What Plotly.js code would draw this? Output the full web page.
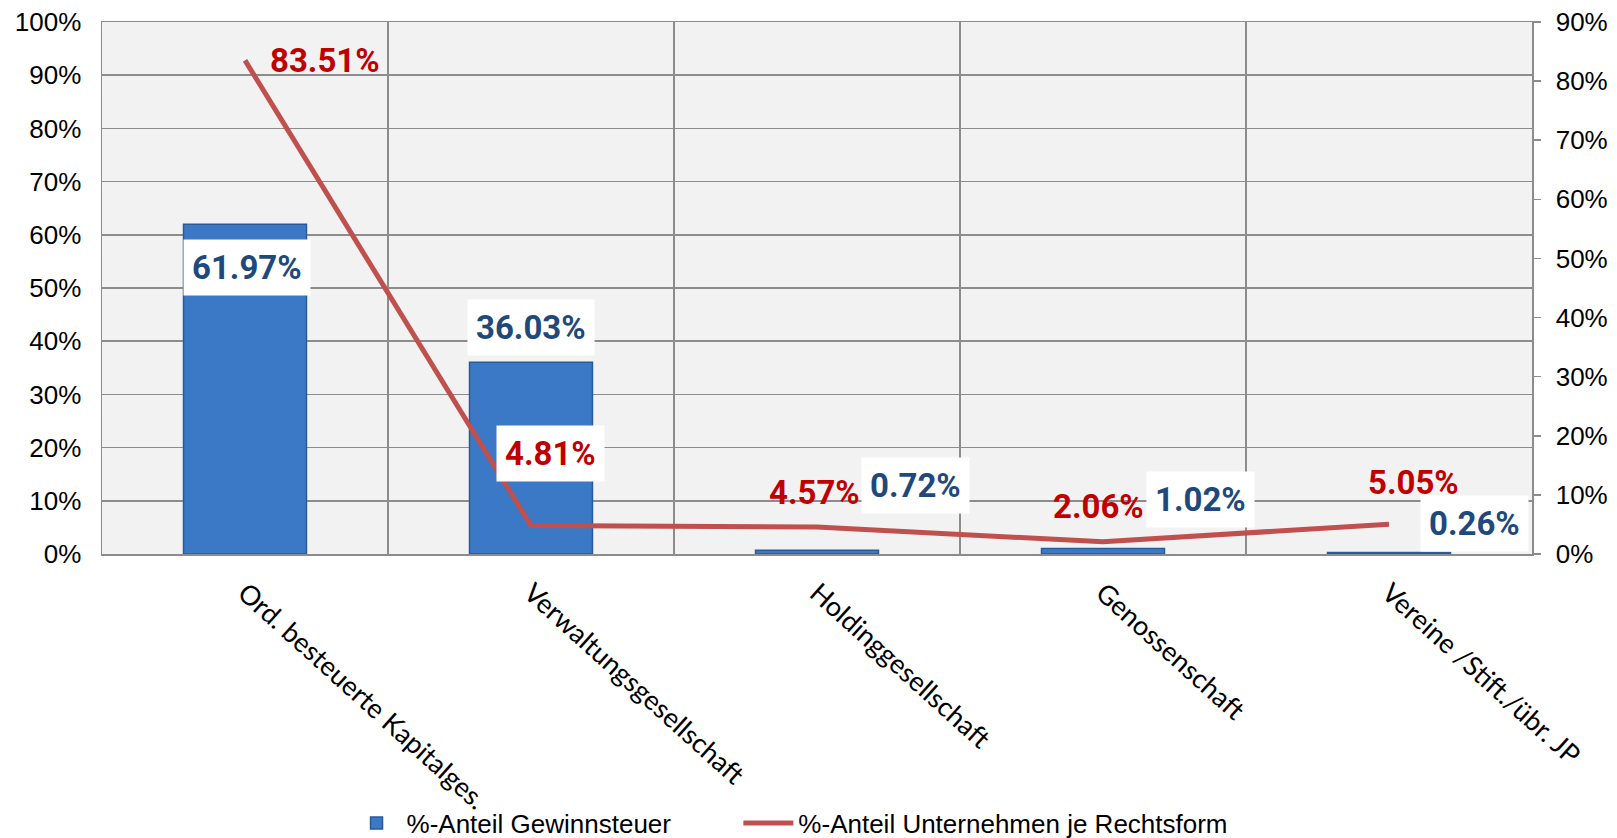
<!DOCTYPE html>
<html>
<head>
<meta charset="utf-8">
<script src="https://cdn.plot.ly/plotly-3.0.1.min.js"></script>
<style>
  html, body { margin: 0; padding: 0; background: #fff; }
  #chart { width: 1617px; height: 838px; }
</style>
</head>
<body>
<div id="chart"></div>
<script>
// Rechtsformen
const categories = [
    'Ord. besteuerte Kapitalges.',
    'Verwaltungsgesellschaft',
    'Holdinggesellschaft',
    'Genossenschaft',
    'Vereine /Stift./übr. JP'
];

// %-Anteil Gewinnsteuer (linke Achse)
const taxShare = [61.97, 36.03, 0.72, 1.02, 0.26];
// %-Anteil Unternehmen je Rechtsform (rechte Achse)
const companyShare = [83.51, 4.81, 4.57, 2.06, 5.05];

const taxLabels = ['61.97%', '36.03%', '0.72%', '1.02%', '0.26%'];
const companyLabels = ['83.51%', '4.81%', '4.57%', '2.06%', '5.05%'];

// label offsets in px, tuned against the picture
const taxShift = [[2, -43], [0, 35], [98, 65], [97, 49], [85, 29]];
const companyShift = [[80, 0], [19, 72], [-3, 34], [-5, 35], [24, 42]];
const companyBox = [false, true, false, false, false];

const blue = '#1F497D';
const red = '#C00000';
const grid = '#8C8C8C';
const labelFont = 'Roboto, "Open Sans", sans-serif';

const data = [
    {
        type: 'bar',
        name: '%-Anteil Gewinnsteuer',
        x: categories,
        y: taxShare,
        yaxis: 'y',
        legend: 'legend',
        marker: {
            color: '#3B78C6',
            line: { color: '#2A5B99', width: 1.5 }
        },
        hoverinfo: 'skip'
    },
    {
        type: 'scatter',
        mode: 'lines',
        name: '%-Anteil Unternehmen je Rechtsform',
        x: categories,
        y: companyShare,
        yaxis: 'y2',
        legend: 'legend2',
        line: { color: '#C0504D', width: 5 },
        hoverinfo: 'skip'
    }
];

const annotations = [];
taxShare.forEach((v, i) => {
    annotations.push({
        x: categories[i], y: v, xref: 'x', yref: 'y',
        text: taxLabels[i],
        showarrow: false,
        xshift: taxShift[i][0], yshift: taxShift[i][1],
        bgcolor: '#FFFFFF',
        borderpad: 8,
        font: { family: labelFont, size: 33, color: blue, weight: 'bold' }
    });
});
companyShare.forEach((v, i) => {
    annotations.push({
        x: categories[i], y: v, xref: 'x', yref: 'y2',
        text: companyLabels[i],
        showarrow: false,
        xshift: companyShift[i][0], yshift: companyShift[i][1],
        bgcolor: companyBox[i] ? '#FFFFFF' : 'rgba(0,0,0,0)',
        borderpad: 8,
        font: { family: labelFont, size: 33, color: red, weight: 'bold' }
    });
});

const legendBase = {
    orientation: 'h',
    xanchor: 'left',
    y: -0.506, yanchor: 'middle',
    bgcolor: 'rgba(0,0,0,0)',
    font: { size: 26, color: '#000' },
    itemwidth: 50
};

const layout = {
    width: 1617,
    height: 838,
    margin: { t: 22, b: 284, l: 102, r: 85, autoexpand: false },
    paper_bgcolor: '#FFFFFF',
    plot_bgcolor: '#F2F2F2',
    font: { family: 'Arial, "Liberation Sans", sans-serif', color: '#000' },
    bargap: 0.57,
    showlegend: true,
    legend: Object.assign({}, legendBase, { x: 0.171 }),
    legend2: Object.assign({}, legendBase, { x: 0.445 }),
    xaxis: {
        type: 'category',
        tickson: 'boundaries',
        showgrid: true,
        gridcolor: grid,
        gridwidth: 1.5,
        showline: true,
        linecolor: grid,
        linewidth: 1.5,
        mirror: true,
        ticks: '',
        tickangle: 42,
        ticklabelstandoff: 11,
        tickfont: { family: 'Lato, "Open Sans", sans-serif', size: 27, color: '#000' },
        fixedrange: true
    },
    yaxis: {
        range: [0, 100],
        dtick: 10,
        ticksuffix: '%',
        showgrid: true,
        gridcolor: grid,
        gridwidth: 1.5,
        zeroline: false,
        showline: true,
        linecolor: grid,
        linewidth: 1.5,
        ticks: '',
        ticklabelstandoff: 14,
        tickfont: { size: 26, color: '#000' },
        fixedrange: true
    },
    yaxis2: {
        overlaying: 'y',
        side: 'right',
        range: [0, 90],
        dtick: 10,
        ticksuffix: '%',
        showgrid: false,
        zeroline: false,
        showline: true,
        linecolor: grid,
        linewidth: 1.5,
        ticks: 'outside',
        ticklen: 7,
        tickcolor: grid,
        tickwidth: 1.5,
        ticklabelstandoff: 10,
        tickfont: { size: 26, color: '#000' },
        fixedrange: true
    },
    annotations: annotations
};

Plotly.newPlot('chart', data, layout, { displayModeBar: false, staticPlot: true });
</script>
</body>
</html>
